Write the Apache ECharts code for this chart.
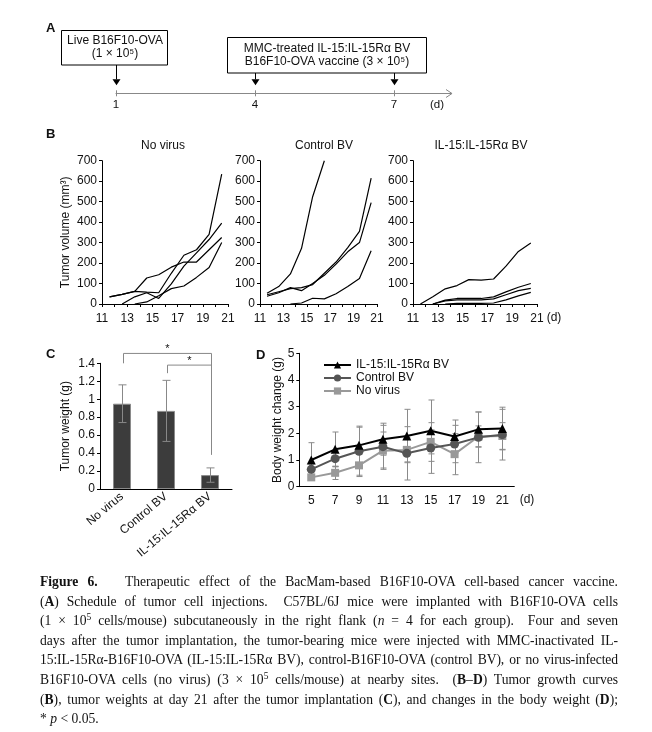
<!DOCTYPE html>
<html>
<head>
<meta charset="utf-8">
<script src="https://cdn.jsdelivr.net/npm/echarts@6/dist/echarts.min.js"></script>
<style>
html,body{margin:0;padding:0;background:#fff;}
#chart{position:absolute;left:0;top:0;width:652px;height:732px;}
#cap{position:absolute;left:40px;top:572px;width:578px;font-family:"Liberation Serif","DejaVu Serif",serif;font-size:13.6px;line-height:19.6px;color:#111;}
#cap div{text-align:justify;text-align-last:justify;white-space:nowrap;}
#cap div.last{text-align-last:left;}
#cap div.tight{letter-spacing:-0.1px;}
#cap sup{font-size:9.5px;line-height:0;vertical-align:5px;}
</style>
</head>
<body>
<div id="chart"></div>
<div id="cap">
<div><b>Figure 6.</b>&nbsp;&nbsp; Therapeutic effect of the BacMam-based B16F10-OVA cell-based cancer vaccine.</div>
<div>(<b>A</b>) Schedule of tumor cell injections.&nbsp; C57BL/6J mice were implanted with B16F10-OVA cells</div>
<div>(1 × 10<sup>5</sup> cells/mouse) subcutaneously in the right flank (<i>n</i> = 4 for each group).&nbsp; Four and seven</div>
<div>days after the tumor implantation, the tumor-bearing mice were injected with MMC-inactivated IL-</div>
<div class="tight">15:IL-15Rα-B16F10-OVA (IL-15:IL-15Rα BV), control-B16F10-OVA (control BV), or no virus-infected</div>
<div>B16F10-OVA cells (no virus) (3 × 10<sup>5</sup> cells/mouse) at nearby sites.&nbsp; (<b>B</b>–<b>D</b>) Tumor growth curves</div>
<div>(<b>B</b>), tumor weights at day 21 after the tumor implantation (<b>C</b>), and changes in the body weight (<b>D</b>);</div>
<div class="last">* <i>p</i> &lt; 0.05.</div>
</div>
<script>
// ---------- Panel A: schedule ----------
const injectionDays = [1, 4, 7];
const injectionBox = [0, 1, 1];

// ---------- Panel B: tumor growth curves ----------
const tumorDays = [11.6, 12.6, 13.6, 14.55, 15.5, 16.5, 17.5, 18.5, 19.5, 20.5];
const noVirusCurves = [
  [35, 47, 62, 58, 55, 150, 238, 265, 340, 635],
  [35, 47, 62, 127, 143, 180, 205, 205, 265, 325],
  [null, 0, 35, 55, 27, 98, 185, 250, 315, 395],
  [null, null, 0, 10, 40, 75, 88, 130, 178, 300]
];
const controlCurves = [
  [52, 85, 147, 272, 524, 700, null, null, null, null],
  [45, 60, 75, 80, 95, 150, 205, 275, 355, 615],
  [38, 55, 80, 65, 100, 140, 195, 255, 300, 495],
  [null, null, 0, 5, 28, 25, 50, 85, 125, 260]
];
const il15Curves = [
  [0, 35, 74, 90, 119, 117, 122, 185, 257, 298],
  [null, 0, 19, 27, 27, 27, 35, 59, 82, 100],
  [null, 0, 15, 20, 20, 20, 25, 45, 65, 76],
  [null, null, 0, 3, 3, 3, 5, 20, 40, 57]
];
const panelTitles = ['No virus', 'Control BV', 'IL-15:IL-15Rα BV'];

// ---------- Panel C: tumor weight ----------
const weightGroups = ['No virus', 'Control BV', 'IL-15:IL-15Rα BV'];
const weightMeans = [0.95, 0.87, 0.155];
const weightErr = [0.21, 0.34, 0.08];
// [fromIndex, toIndex, level, leftDrop, rightDrop]
const sigBrackets = [[0, 2, 1.51, 1.4, 0.38], [1, 2, 1.38, 1.29, 1.38]];

// ---------- Panel D: body weight change ----------
const bwDays = ['5', '7', '9', '11', '13', '15', '17', '19', '21'];
const bwIL15 = [1.0, 1.4, 1.55, 1.78, 1.9, 2.1, 1.88, 2.15, 2.18];
const bwIL15Err = [0.65, 0.65, 0.72, 0.6, 1.0, 1.15, 0.62, 0.65, 0.8];
const bwControl = [0.65, 1.05, 1.33, 1.5, 1.25, 1.45, 1.6, 1.85, 1.95];
const bwControlErr = [0.2, 0.3, 0.9, 0.8, 1.0, 0.95, 0.7, 0.95, 0.95];
const bwNoVirus = [0.35, 0.52, 0.8, 1.35, 1.38, 1.68, 1.22, 1.88, 1.9];
const bwNoVirusErr = [0.1, 0.25, 0.42, 0.7, 0.45, 0.45, 0.77, 0.4, 0.5];

const FONT = '"Liberation Sans", Arial, Helvetica, sans-serif';
const TXT = '#111';
const TICK_FS = 12;

const chart = echarts.init(document.getElementById('chart'), null, {renderer: 'canvas'});

const grids = [
  {left: 116, top: 60, width: 335.7, height: 33.3},   // A timeline
  {left: 102, top: 160.7, width: 126, height: 143.3}, // B1
  {left: 260, top: 160.7, width: 117, height: 143.3}, // B2
  {left: 413, top: 160.7, width: 124, height: 143.3}, // B3
  {left: 100, top: 363.3, width: 132, height: 125.7}, // C
  {left: 299.3, top: 353.3, width: 215, height: 133.4} // D
];

const xAxes = [];
const yAxes = [];
// A
xAxes.push({
  type: 'value', gridIndex: 0, min: 1, max: 8.245,
  axisLine: {show: true, lineStyle: {color: '#888', width: 1}},
  axisTick: {show: false},
  axisLabel: {customValues: injectionDays, fontSize: 11.5, color: TXT, fontFamily: FONT, margin: 6},
  splitLine: {show: false}
});
yAxes.push({type: 'value', gridIndex: 0, min: 0, max: 1, show: false});
// B
for (let g = 1; g <= 3; g++) {
  xAxes.push({
    type: 'value', gridIndex: g, min: 11, max: 21, interval: 1,
    axisLine: {show: true, onZero: false, lineStyle: {color: '#000', width: 1}},
    axisTick: {show: true, length: 3, lineStyle: {color: '#000'}},
    axisLabel: {fontSize: TICK_FS, color: TXT, fontFamily: FONT, margin: 9,
      formatter: v => (v % 2 === 1 ? String(v) : '')},
    splitLine: {show: false}
  });
  yAxes.push({
    type: 'value', gridIndex: g, min: 0, max: 700, interval: 100,
    name: g === 1 ? 'Tumor volume (mm³)' : '', nameLocation: 'middle', nameGap: 30,
    nameTextStyle: {fontSize: 12, color: TXT, fontFamily: FONT},
    axisLine: {show: true, lineStyle: {color: '#000', width: 1}},
    axisTick: {show: true, length: 3, lineStyle: {color: '#000'}},
    axisLabel: {fontSize: TICK_FS, color: TXT, fontFamily: FONT, margin: 5},
    splitLine: {show: false}
  });
}
// C
xAxes.push({
  type: 'category', gridIndex: 4, data: weightGroups,
  axisLine: {show: true, lineStyle: {color: '#000', width: 1}},
  axisTick: {show: false},
  axisLabel: {fontSize: TICK_FS, color: TXT, fontFamily: FONT, rotate: 40, interval: 0, margin: 6}
});
yAxes.push({
  type: 'value', gridIndex: 4, min: 0, max: 1.4, interval: 0.2,
  name: 'Tumor weight (g)', nameLocation: 'middle', nameGap: 28,
  nameTextStyle: {fontSize: 12, color: TXT, fontFamily: FONT},
  axisLine: {show: true, lineStyle: {color: '#000', width: 1}},
  axisTick: {show: true, length: 3, lineStyle: {color: '#000'}},
  axisLabel: {fontSize: TICK_FS, color: TXT, fontFamily: FONT, margin: 5},
  splitLine: {show: false}
});
// D
xAxes.push({
  type: 'category', gridIndex: 5, data: bwDays, boundaryGap: true,
  axisLine: {show: true, lineStyle: {color: '#000', width: 1}},
  axisTick: {show: false},
  axisLabel: {fontSize: TICK_FS, color: TXT, fontFamily: FONT, margin: 8, interval: 0}
});
yAxes.push({
  type: 'value', gridIndex: 5, min: 0, max: 5, interval: 1,
  name: 'Body weight change (g)', nameLocation: 'middle', nameGap: 16,
  nameTextStyle: {fontSize: 12, color: TXT, fontFamily: FONT},
  axisLine: {show: true, lineStyle: {color: '#000', width: 1}},
  axisTick: {show: true, length: 3, lineStyle: {color: '#000'}},
  axisLabel: {fontSize: TICK_FS, color: TXT, fontFamily: FONT, margin: 5},
  splitLine: {show: false}
});

const series = [];

// A: arrows + ticks on timeline
series.push({
  type: 'custom', xAxisIndex: 0, yAxisIndex: 0, silent: true,
  data: injectionDays.map((d, i) => [d, injectionBox[i]]),
  renderItem: (params, api) => {
    const p = api.coord([api.value(0), 0]);
    const boxBottom = api.value(1) === 0 ? 65 : 73;
    const x = Math.round(p[0]) + 0.5, y = p[1];
    return {type: 'group', children: [
      {type: 'line', shape: {x1: x, y1: y - 3, x2: x, y2: y + 3}, style: {stroke: '#888', lineWidth: 1}},
      {type: 'line', shape: {x1: x, y1: boxBottom, x2: x, y2: y - 14}, style: {stroke: '#000', lineWidth: 1}},
      {type: 'polygon', shape: {points: [[x - 4, y - 14], [x + 4, y - 14], [x, y - 8]]}, style: {fill: '#000'}}
    ]};
  }
});

// B: curves
const allCurves = [noVirusCurves, controlCurves, il15Curves];
allCurves.forEach((curves, k) => {
  curves.forEach(c => {
    series.push({
      type: 'line', xAxisIndex: k + 1, yAxisIndex: k + 1, silent: true,
      data: tumorDays.map((d, i) => [d, c[i]]).filter(p => p[1] !== null),
      showSymbol: false, symbol: 'none', clip: true,
      lineStyle: {color: '#000', width: 1.2}
    });
  });
});

// C: bars
series.push({
  type: 'bar', xAxisIndex: 4, yAxisIndex: 4, data: weightMeans, barWidth: 18, silent: true,
  itemStyle: {color: '#3c3c3c', borderColor: '#8a8a8a', borderWidth: 1}
});
function errRender(cap, color) {
  return (params, api) => {
    const x = api.value(0), v = api.value(1), e = api.value(2);
    const hi = api.coord([x, v + e]), lo = api.coord([x, v - e]);
    const xx = Math.round(hi[0]) + 0.5;
    const st = {stroke: color, lineWidth: 1};
    return {type: 'group', children: [
      {type: 'line', shape: {x1: xx, y1: hi[1], x2: xx, y2: lo[1]}, style: st},
      {type: 'line', shape: {x1: xx - cap, y1: hi[1], x2: xx + cap, y2: hi[1]}, style: st},
      {type: 'line', shape: {x1: xx - cap, y1: lo[1], x2: xx + cap, y2: lo[1]}, style: st}
    ]};
  };
}
series.push({
  type: 'custom', xAxisIndex: 4, yAxisIndex: 4, silent: true, z: 3,
  data: weightMeans.map((m, i) => [i, m, weightErr[i]]),
  renderItem: errRender(4, '#888')
});
series.push({
  type: 'custom', xAxisIndex: 4, yAxisIndex: 4, silent: true, clip: false,
  data: sigBrackets,
  renderItem: (params, api) => {
    const a = api.value(0), b = api.value(1), lv = api.value(2), dl = api.value(3), dr = api.value(4);
    const p1 = api.coord([a, dl]), p2 = api.coord([a, lv]), p3 = api.coord([b, lv]), p4 = api.coord([b, dr]);
    const xl = Math.round(p1[0]) + 1.5, xr = Math.round(p3[0]) + 1.5;
    return {type: 'group', children: [
      {type: 'polyline', shape: {points: [[xl, p1[1]], [xl, p2[1]], [xr, p3[1]], [xr, p4[1]]]},
        style: {stroke: '#888', lineWidth: 1, fill: null}},
      {type: 'text', x: (xl + xr) / 2, y: p2[1] + 1,
        style: {text: '*', fontSize: 11, fontFamily: FONT, fill: TXT, align: 'center', verticalAlign: 'bottom'}}
    ]};
  }
});

// D: body weight
const dSeries = [
  {name: 'No virus', data: bwNoVirus, err: bwNoVirusErr, color: '#999999', symbol: 'rect', size: 8},
  {name: 'Control BV', data: bwControl, err: bwControlErr, color: '#555555', symbol: 'circle', size: 9},
  {name: 'IL-15:IL-15Rα BV', data: bwIL15, err: bwIL15Err, color: '#000000', symbol: 'triangle', size: 9}
];
dSeries.forEach((s, k) => {
  series.push({
    type: 'custom', xAxisIndex: 5, yAxisIndex: 5, silent: true, z: 2,
    data: s.data.map((v, i) => [i, v, s.err[i]]),
    renderItem: errRender(3, '#8a8a8a')
  });
});
dSeries.forEach((s, k) => {
  series.push({
    type: 'line', name: s.name, xAxisIndex: 5, yAxisIndex: 5, silent: true, z: 3 + k,
    data: s.data, symbol: s.symbol, symbolSize: s.size, showSymbol: true,
    lineStyle: {color: s.color, width: 2}, itemStyle: {color: s.color}
  });
});

const textStyleBase = {fontFamily: FONT, fill: TXT};
const graphic = [
  // panel letters
  {type: 'text', left: 46, top: 22, style: Object.assign({text: 'A', fontSize: 13, fontWeight: 'bold'}, textStyleBase)},
  {type: 'text', left: 46, top: 128, style: Object.assign({text: 'B', fontSize: 13, fontWeight: 'bold'}, textStyleBase)},
  {type: 'text', left: 46, top: 348, style: Object.assign({text: 'C', fontSize: 13, fontWeight: 'bold'}, textStyleBase)},
  {type: 'text', left: 256, top: 349, style: Object.assign({text: 'D', fontSize: 13, fontWeight: 'bold'}, textStyleBase)},
  // boxes for panel A
  {type: 'rect', shape: {x: 61.5, y: 30.5, width: 106, height: 34.5}, style: {fill: '#fff', stroke: '#000', lineWidth: 1}},
  {type: 'text', x: 115, y: 41, style: Object.assign({text: 'Live B16F10-OVA', fontSize: 12, align: 'center', verticalAlign: 'middle'}, textStyleBase)},
  {type: 'text', x: 115, y: 53.5, style: Object.assign({text: '(1 × 10⁵)', fontSize: 12, align: 'center', verticalAlign: 'middle'}, textStyleBase)},
  {type: 'rect', shape: {x: 227.5, y: 37.5, width: 199, height: 35.5}, style: {fill: '#fff', stroke: '#000', lineWidth: 1}},
  {type: 'text', x: 327, y: 49, style: Object.assign({text: 'MMC-treated IL-15:IL-15Rα BV', fontSize: 12, align: 'center', verticalAlign: 'middle'}, textStyleBase)},
  {type: 'text', x: 327, y: 62, style: Object.assign({text: 'B16F10-OVA vaccine (3 × 10⁵)', fontSize: 12, align: 'center', verticalAlign: 'middle'}, textStyleBase)},
  // open arrow head of timeline
  {type: 'polyline', shape: {points: [[446, 89.5], [452, 93.5], [446, 97.5]]}, style: {stroke: '#888', lineWidth: 1, fill: null}},
  {type: 'text', x: 437, y: 105, style: Object.assign({text: '(d)', fontSize: 11.5, align: 'center', verticalAlign: 'middle'}, textStyleBase)},
  // B titles
  {type: 'text', x: 163, y: 146, style: Object.assign({text: panelTitles[0], fontSize: 12, align: 'center', verticalAlign: 'middle'}, textStyleBase)},
  {type: 'text', x: 324, y: 146, style: Object.assign({text: panelTitles[1], fontSize: 12, align: 'center', verticalAlign: 'middle'}, textStyleBase)},
  {type: 'text', x: 481, y: 146, style: Object.assign({text: panelTitles[2], fontSize: 12, align: 'center', verticalAlign: 'middle'}, textStyleBase)},
  {type: 'text', x: 554, y: 318, style: Object.assign({text: '(d)', fontSize: TICK_FS, align: 'center', verticalAlign: 'middle'}, textStyleBase)},
  {type: 'text', x: 527, y: 500, style: Object.assign({text: '(d)', fontSize: TICK_FS, align: 'center', verticalAlign: 'middle'}, textStyleBase)}
];

chart.setOption({
  animation: false,
  backgroundColor: '#fff',
  textStyle: {fontFamily: FONT},
  grid: grids,
  xAxis: xAxes,
  yAxis: yAxes,
  legend: {
    left: 318, top: 354, orient: 'vertical', itemWidth: 27, itemHeight: 9, itemGap: 1,
    selectedMode: false,
    data: ['IL-15:IL-15Rα BV', 'Control BV', 'No virus'],
    textStyle: {fontSize: TICK_FS, color: TXT, fontFamily: FONT}
  },
  series: series,
  graphic: graphic
});
</script>
</body>
</html>
